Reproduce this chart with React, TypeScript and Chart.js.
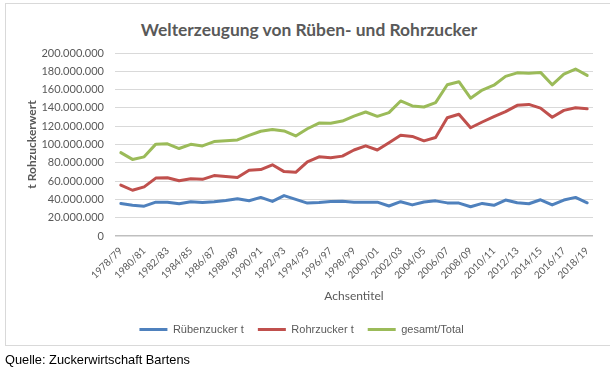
import React, { useEffect, useRef } from 'react';
import { Chart, registerables } from 'chart.js';

Chart.register(...registerables);

const categories = [
  '1978/79', '1979/80', '1980/81', '1981/82', '1982/83', '1983/84', '1984/85', '1985/86',
  '1986/87', '1987/88', '1988/89', '1989/90', '1990/91', '1991/92', '1992/93', '1993/94',
  '1994/95', '1995/96', '1996/97', '1997/98', '1998/99', '1999/00', '2000/01', '2001/02',
  '2002/03', '2003/04', '2004/05', '2005/06', '2006/07', '2007/08', '2008/09', '2009/10',
  '2010/11', '2011/12', '2012/13', '2013/14', '2014/15', '2015/16', '2016/17', '2017/18',
  '2018/19',
];

const ruebenzucker = [
  35500000, 33700000, 32600000, 37000000, 37000000, 35200000, 37400000, 36700000,
  37400000, 38900000, 40700000, 38500000, 42200000, 37800000, 44200000, 40000000,
  36000000, 36500000, 37800000, 38000000, 37000000, 37000000, 37000000, 32800000,
  37500000, 34000000, 37200000, 38400000, 36200000, 36000000, 32000000, 35600000,
  33500000, 39300000, 36300000, 35200000, 39600000, 34000000, 39300000, 42200000,
  36300000,
];

const rohrzucker = [
  55600000, 50000000, 53700000, 63300000, 63700000, 60400000, 62600000, 61900000,
  66000000, 65000000, 64000000, 71900000, 72600000, 77800000, 70400000, 69600000,
  81000000, 86500000, 85500000, 87300000, 94000000, 98500000, 94000000, 102000000,
  110000000, 108800000, 104000000, 107600000, 129200000, 133000000, 118300000, 124600000,
  130500000, 136000000, 142800000, 143800000, 139800000, 129800000, 137300000, 140200000,
  139000000,
];

const gesamt = [
  91100000, 83700000, 86500000, 100400000, 100800000, 95600000, 100200000, 98400000,
  103200000, 104000000, 105000000, 110000000, 114500000, 116300000, 114800000, 109300000,
  117200000, 123400000, 123200000, 125600000, 131000000, 135500000, 130800000, 134800000,
  147600000, 142200000, 141000000, 145800000, 165300000, 168600000, 150600000, 159500000,
  164800000, 174500000, 178300000, 178000000, 178800000, 165200000, 177000000, 182500000,
  175500000,
];

const seriesNames = ['Rübenzucker t', 'Rohrzucker t', 'gesamt/Total'];
const seriesColors = ['#4F81BD', '#C0504D', '#9BBB59'];

const titleText = 'Welterzeugung von Rüben- und Rohrzucker';
const yAxisTitle = 't Rohzuckerwert';
const xAxisTitle = 'Achsentitel';
const sourceText = 'Quelle: Zuckerwirtschaft Bartens';

const yMin = 0;
const yMax = 200000000;
const yStep = 20000000;

const textColor = '#595959';

function fmt(v: number): string {
  return String(Math.round(v)).replace(/\B(?=(\d{3})+(?!\d))/g, '.');
}

export default function App() {
  const ref = useRef<HTMLCanvasElement>(null);

  useEffect(() => {
    if (!ref.current) return;
    const seriesData = [ruebenzucker, rohrzucker, gesamt];
    const chart = new Chart(ref.current, {
      type: 'line',
      data: {
        labels: categories,
        datasets: seriesData.map((d, i) => ({
          label: seriesNames[i],
          data: d,
          borderColor: seriesColors[i],
          backgroundColor: seriesColors[i],
          borderWidth: 3,
          pointRadius: 0,
          pointHoverRadius: 0,
          tension: 0,
          borderJoinStyle: 'round' as const,
          borderCapStyle: 'round' as const,
          fill: false,
        })),
      },
      options: {
        animation: false,
        responsive: false,
        maintainAspectRatio: false,
        layout: { padding: { left: 10, right: 17, top: 53, bottom: 35 } },
        plugins: {
          legend: {
            position: 'bottom',
            align: 'center',
            labels: {
              usePointStyle: true,
              pointStyle: 'line',
              pointStyleWidth: 28,
              padding: 14,
              color: textColor,
              font: { family: 'Liberation Sans', size: 11 },
            },
          },
          title: { display: false },
          tooltip: { enabled: false },
        },
        scales: {
          x: {
            type: 'category',
            offset: true,
            grid: { display: false, drawTicks: false },
            border: { display: false },
            ticks: {
              autoSkip: false,
              maxRotation: 45,
              minRotation: 45,
              padding: 9,
              color: textColor,
              font: { family: 'Lato', size: 10 },
              callback: function (this: any, val: any, idx: number) {
                return idx % 2 === 0 ? this.getLabelForValue(val) : '';
              },
            },
            title: {
              display: true,
              text: xAxisTitle,
              color: textColor,
              font: { family: 'Lato', size: 12 },
              padding: { top: 0, bottom: 7 },
            },
            afterFit: (s: any) => {
              s.height = 74;
            },
          },
          y: {
            min: yMin,
            max: yMax,
            ticks: {
              stepSize: yStep,
              padding: 11,
              color: textColor,
              font: { family: 'Lato', size: 11 },
              callback: (v: any) => fmt(Number(v)),
            },
            grid: {
              drawTicks: false,
              color: (ctx: any) => (ctx.tick && ctx.tick.value === 0 ? '#bfbfbf' : '#d9d9d9'),
              lineWidth: (ctx: any) => (ctx.tick && ctx.tick.value === 0 ? 1.5 : 1),
            },
            border: { display: false },
            title: {
              display: true,
              text: yAxisTitle,
              color: textColor,
              font: { family: 'Lato', size: 12, weight: 'bold' },
              padding: { top: 15, bottom: 0 },
            },
            afterFit: (s: any) => {
              s.width = 105;
            },
          },
        },
      },
    });
    return () => chart.destroy();
  }, []);

  return (
    <div style={{ position: 'absolute', left: 0, top: 0, width: 610, height: 380, overflow: 'hidden', background: '#ffffff' }}>
      <div
        style={{
          position: 'absolute',
          left: 5,
          top: 3,
          width: 640,
          height: 343,
          boxSizing: 'border-box',
          border: '1px solid #d9d9d9',
        }}
      />
      <div
        style={{
          position: 'absolute',
          left: 4,
          top: 18,
          width: 610,
          textAlign: 'center',
          fontFamily: 'Lato, sans-serif',
          fontWeight: 'bold',
          fontSize: 17.4,
          lineHeight: '24px',
          color: textColor,
          whiteSpace: 'nowrap',
        }}
      >
        {titleText}
      </div>
      <canvas ref={ref} width={610} height={380} style={{ position: 'absolute', left: 0, top: 0, width: 610, height: 380 }} />
      <div
        style={{
          position: 'absolute',
          left: 5,
          top: 352,
          fontFamily: '"Liberation Sans", Arial, sans-serif',
          fontSize: 12.8,
          lineHeight: '16px',
          color: '#000000',
          whiteSpace: 'nowrap',
        }}
      >
        {sourceText}
      </div>
    </div>
  );
}
